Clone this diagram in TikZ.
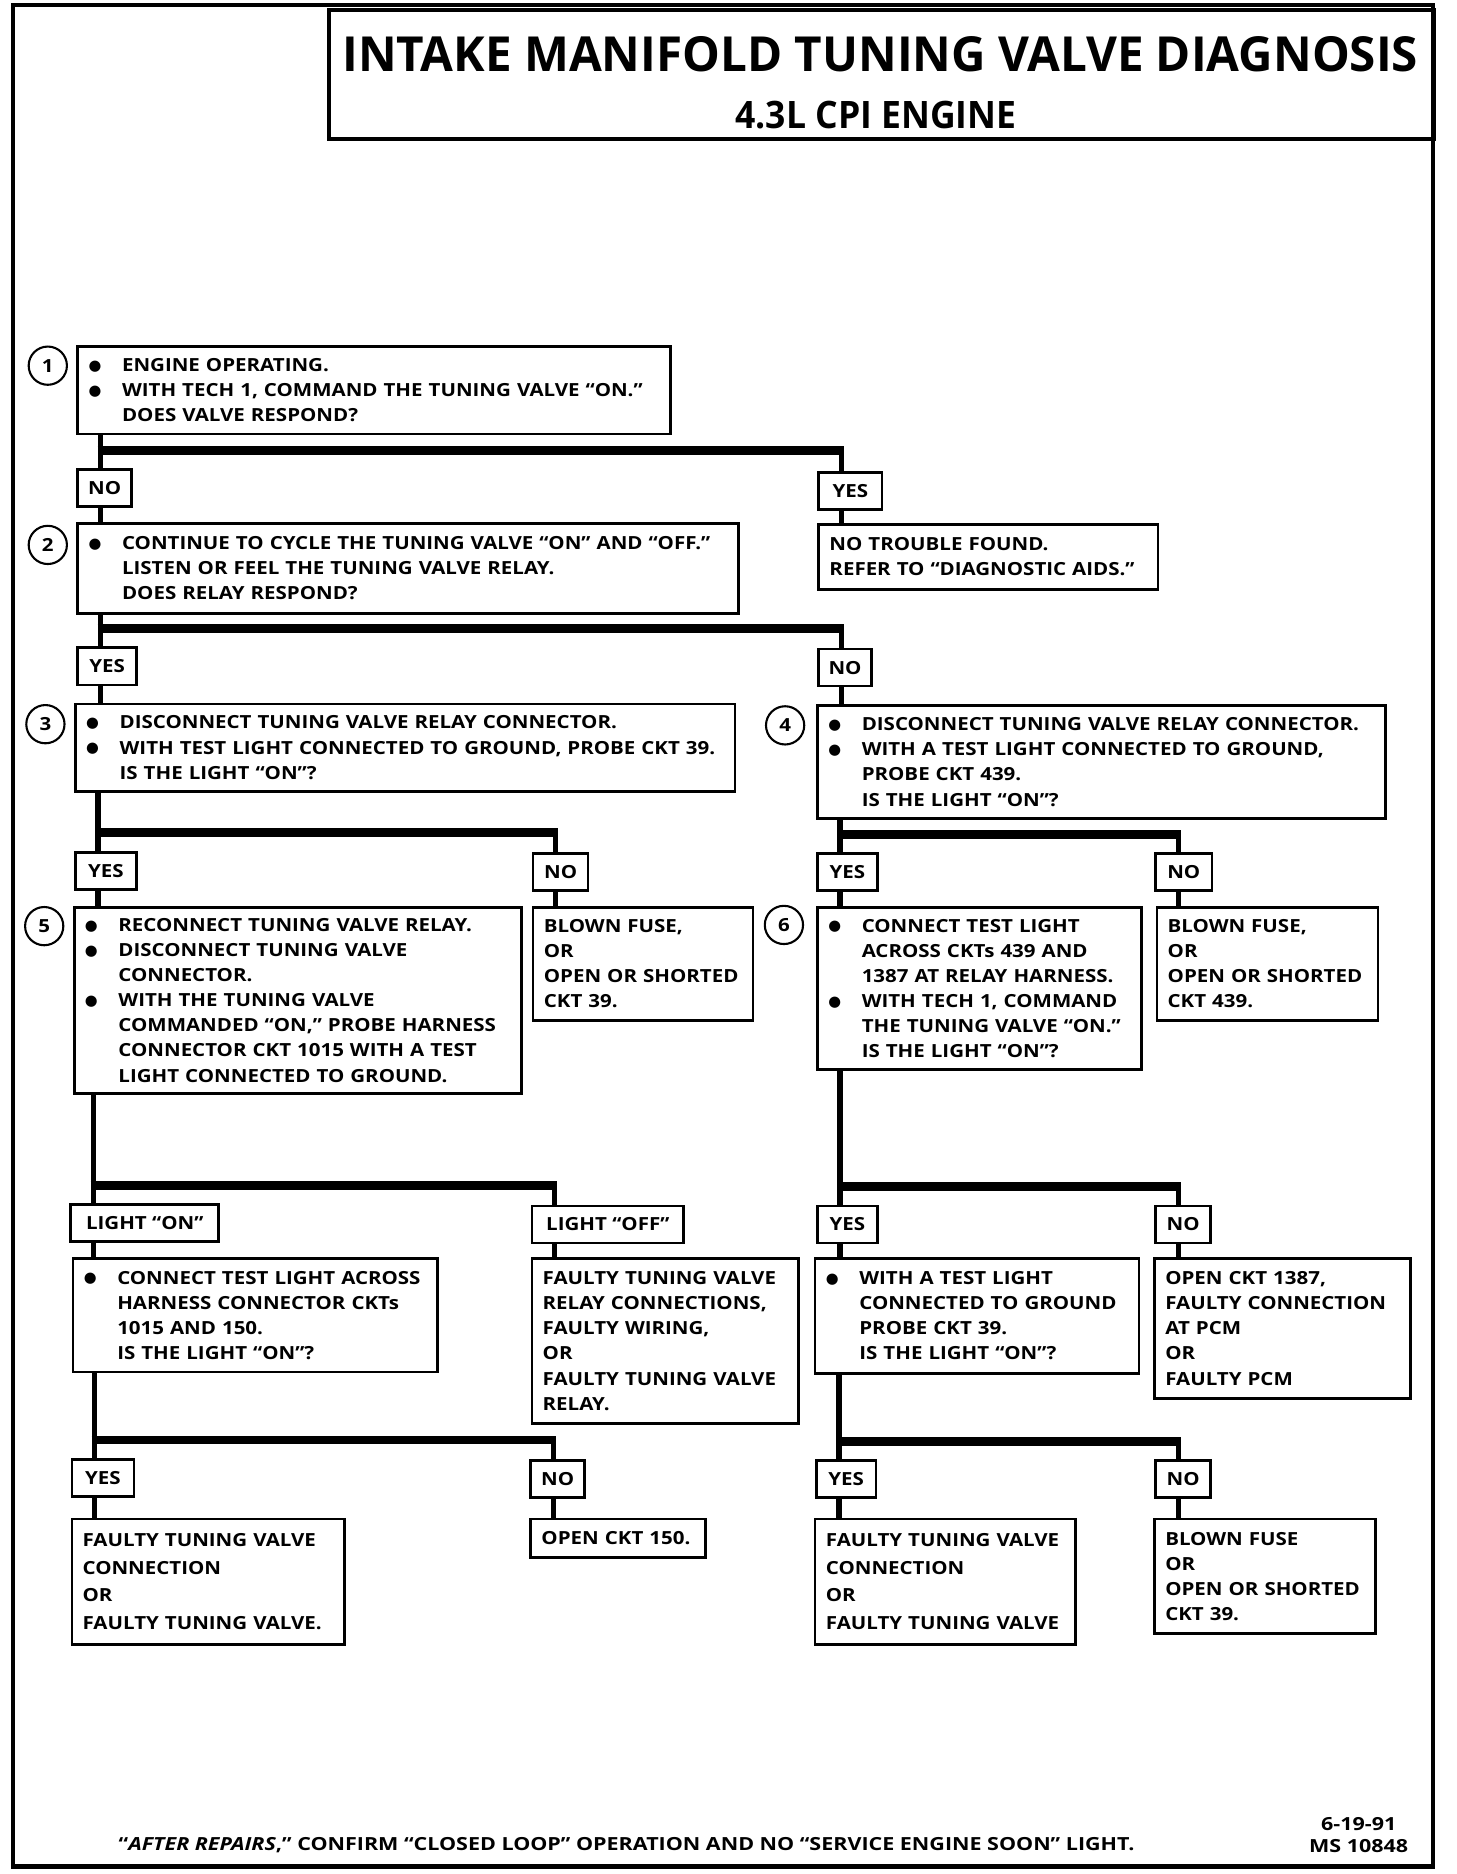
\documentclass[tikz,border=0pt]{standalone}
\usepackage{fontspec}
\setmainfont[FakeStretch=1.135]{Open Sans}
\newfontfamily\titlefont[FakeStretch=0.985]{Open Sans}
\newfontfamily\subfont[FakeStretch=0.94]{Open Sans}
\newfontfamily\footfont[FakeStretch=1.19]{Open Sans}
\newfontfamily\symfont{DejaVu Sans}
\usetikzlibrary{calc}
\newcommand{\bul}{\makebox[5.6mm][l]{\raisebox{0.6pt}{\symfont\fontsize{7}{7}\selectfont ●}}}
\newcommand{\ind}{\hspace*{5.6mm}}
\tikzset{
    frame/.style={draw, line width=0.75mm},
    headbox/.style={draw, line width=0.55mm, anchor=north west, inner sep=0pt},
    qbox/.style={draw, line width=0.45mm, anchor=north west, inner xsep=1.8mm,
             inner ysep=0pt, align=left, font=\bfseries\fontsize{8.6}{11.95}\selectfont,
             execute at begin node={\rightskip=0pt minus 8mm\relax}},
    rbox/.style={qbox},
    lbl/.style={draw, line width=0.45mm, anchor=north west, inner sep=0pt,
             minimum height=6.2mm, minimum width=#1, font=\bfseries\fontsize{8.6}{11}\selectfont},
    num/.style={circle, draw, line width=0.35mm, minimum size=6.4mm, inner sep=0pt,
             font=\bfseries\fontsize{8.6}{11}\selectfont},
    trunk/.style={line width=0.9mm},
    bar/.style={line width=1.5mm, shorten <=-0.45mm, shorten >=-0.45mm}
  }

\begin{document}
\begin{tikzpicture}[x=0.2mm, y=-0.2mm]
 \useasboundingbox (0,0) rectangle (1218.4,1568.2);
 %Frame and heading
     \draw[frame] (11,4) rectangle (1199,1562);
     \node[headbox, minimum width=185mm, minimum height=21.6mm] (head) at (274,7) {};
     \node[inner sep=0pt, font=\titlefont\bfseries\fontsize{23}{26}\selectfont] (title) at (736.5,45)
        {INTAKE MANIFOLD TUNING VALVE DIAGNOSIS};
     \node[inner sep=0pt, font=\subfont\bfseries\fontsize{18}{20}\selectfont] (subtitle) at (733,96.5)
        {4.3L CPI ENGINE};
 %Step 1
     \node[num] (c1) at (40,306) {1};
     \node[qbox, text width=95.6mm, minimum height=14.6mm] (q1) at (64,289)
        {\bul ENGINE OPERATING.\\
         \bul WITH TECH 1, COMMAND THE TUNING VALVE “ON.”\\
         \ind DOES VALVE RESPOND?};
     \node[lbl=9mm] (n1) at (64,392) {NO};
     \node[lbl=10.6mm] (y1) at (684,394) {YES};
 %Step 2
     \node[num] (c2) at (40,456) {2};
     \node[qbox, text width=107mm, minimum height=15mm] (q2) at (64,437)
        {\bul CONTINUE TO CYCLE THE TUNING VALVE “ON” AND “OFF.”\\
         \ind LISTEN OR FEEL THE TUNING VALVE RELAY.\\
         \ind DOES RELAY RESPOND?};
     \node[rbox, text width=53.2mm, minimum height=10.8mm] (r1) at (684,438)
        {NO TROUBLE FOUND.\\
         REFER TO “DIAGNOSTIC AIDS.”};
     \node[lbl=9.8mm] (y2) at (64,541) {YES};
     \node[lbl=8.8mm] (n2) at (684,542) {NO};
 %Step 3
     \node[num] (c3) at (38,606) {3};
     \node[qbox, text width=106.8mm, minimum height=14.6mm] (q3) at (62,588)
        {\bul DISCONNECT TUNING VALVE RELAY CONNECTOR.\\
         \bul WITH TEST LIGHT CONNECTED TO GROUND, PROBE CKT 39.\\
         \ind IS THE LIGHT “ON”?};
     \node[lbl=10.2mm] (y3) at (62,712) {YES};
     \node[lbl=9.2mm] (n3) at (445,713) {NO};
 %Step 4
     \node[num] (c4) at (657,607) {4};
     \node[qbox, text width=91.4mm, minimum height=19mm] (q4) at (683,589)
        {\bul DISCONNECT TUNING VALVE RELAY CONNECTOR.\\
         \bul WITH A TEST LIGHT CONNECTED TO GROUND,\\
         \ind PROBE CKT 439.\\
         \ind IS THE LIGHT “ON”?};
     \node[lbl=10mm] (y4) at (683,713) {YES};
     \node[lbl=9.4mm] (n4) at (966,713) {NO};
 %Step 5
     \node[num] (c5) at (37,775) {5};
     \node[qbox, text width=71.2mm, minimum height=31.2mm] (q5) at (61,758)
        {\bul RECONNECT TUNING VALVE RELAY.\\
         \bul DISCONNECT TUNING VALVE\\
         \ind CONNECTOR.\\
         \bul WITH THE TUNING VALVE\\
         \ind COMMANDED “ON,” PROBE HARNESS\\
         \ind CONNECTOR CKT 1015 WITH A TEST\\
         \ind LIGHT CONNECTED TO GROUND.};
     \node[rbox, text width=33.2mm, minimum height=19mm] (r3) at (445,758)
        {BLOWN FUSE,\\
         OR\\
         OPEN OR SHORTED\\
         CKT 39.};
     \node[lbl=24.8mm] (lon) at (58,1007) {LIGHT “ON”};
     \node[lbl=25.4mm] (loff) at (444,1008) {LIGHT “OFF”};
 %Step 6
     \node[num] (c6) at (656,774) {6};
     \node[qbox, text width=50.6mm, minimum height=27.2mm] (q6) at (683,758)
        {\bul CONNECT TEST LIGHT\\
         \ind ACROSS CKTs 439 AND\\
         \ind 1387 AT RELAY HARNESS.\\
         \bul WITH TECH 1, COMMAND\\
         \ind THE TUNING VALVE “ON.”\\
         \ind IS THE LIGHT “ON”?};
     \node[rbox, text width=33.4mm, minimum height=19mm] (r4) at (967,758)
        {BLOWN FUSE,\\
         OR\\
         OPEN OR SHORTED\\
         CKT 439.};
     \node[lbl=10mm] (y6) at (683,1008) {YES};
     \node[lbl=9.2mm] (n6) at (966,1008) {NO};
 %Light on / light off
     \node[qbox, text width=57.4mm, minimum height=19mm] (q7) at (60,1052)
        {\bul CONNECT TEST LIGHT ACROSS\\
         \ind HARNESS CONNECTOR CKTs\\
         \ind 1015 AND 150.\\
         \ind IS THE LIGHT “ON”?};
     \node[rbox, text width=41mm, minimum height=27.6mm] (r5) at (444,1052)
        {FAULTY TUNING VALVE\\
         RELAY CONNECTIONS,\\
         FAULTY WIRING,\\
         OR\\
         FAULTY TUNING VALVE\\
         RELAY.};
     \node[lbl=10.4mm] (y7) at (59,1220) {YES};
     \node[lbl=9mm] (n7) at (443,1221) {NO};
 %Test light to ground
     \node[qbox, text width=50.6mm, minimum height=19.2mm] (q8) at (681,1052)
        {\bul WITH A TEST LIGHT\\
         \ind CONNECTED TO GROUND\\
         \ind PROBE CKT 39.\\
         \ind IS THE LIGHT “ON”?};
     \node[rbox, text width=39.2mm, minimum height=23.4mm] (r6) at (965,1052)
        {OPEN CKT 1387,\\
         FAULTY CONNECTION\\
         AT PCM\\
         OR\\
         FAULTY PCM};
     \node[lbl=10mm] (y8) at (682,1221) {YES};
     \node[lbl=9.2mm] (n8) at (966,1221) {NO};
 %Results
     \node[rbox, text width=42mm, minimum height=21mm, font=\bfseries\fontsize{8.6}{13.1}\selectfont] (r7) at (59,1270)
        {FAULTY TUNING VALVE\\
         CONNECTION\\
         OR\\
         FAULTY TUNING VALVE.};
     \node[rbox, text width=25.6mm, minimum height=6.4mm] (r8) at (443,1270)
        {OPEN CKT 150.};
     \node[rbox, text width=40mm, minimum height=21mm, font=\bfseries\fontsize{8.6}{13.1}\selectfont] (r9) at (681,1270)
        {FAULTY TUNING VALVE\\
         CONNECTION\\
         OR\\
         FAULTY TUNING VALVE};
     \node[rbox, text width=33.4mm, minimum height=19.2mm] (r10) at (965,1270)
        {BLOWN FUSE\\
         OR\\
         OPEN OR SHORTED\\
         CKT 39.};
 %Branches
     \foreach \q/\l/\r/\lc/\rc in {q1/n1/y1/q2/r1, q2/y2/n2/q3/q4, q3/y3/n3/q5/r3,
              q4/y4/n4/q6/r4, q5/lon/loff/q7/r5, q6/y6/n6/q8/r6, q7/y7/n7/r7/r8, q8/y8/n8/r9/r10}{
       \coordinate (tl) at ($(\l.north west)+(20,0)$);
       \coordinate (tr) at ($(\r.north west)+(20,0)$);
       \draw[trunk] (\q.south -| tl) -- (tl);
       \draw[bar] ([yshift=3mm]tl) -- ([yshift=3mm]tl -| tr);
       \draw[trunk] ([yshift=3mm]tl -| tr) -- (tr);
       \draw[trunk] (\l.south -| tl) -- (\lc.north -| tl);
       \draw[trunk] (\r.south -| tr) -- (\rc.north -| tr);
     }
 %Footer
     \node[anchor=base west, inner sep=0pt, font=\footfont\bfseries\fontsize{8.6}{11}\selectfont] (foot) at (99,1548.5)
        {“\textit{AFTER REPAIRS},” CONFIRM “CLOSED LOOP” OPERATION AND NO “SERVICE ENGINE SOON” LIGHT.};
     \node[inner sep=0pt, align=center, font=\footfont\bfseries\fontsize{8.6}{10.4}\selectfont] (code) at (1137,1535.5)
        {6-19-91\\ MS 10848};
\end{tikzpicture}
\end{document}
